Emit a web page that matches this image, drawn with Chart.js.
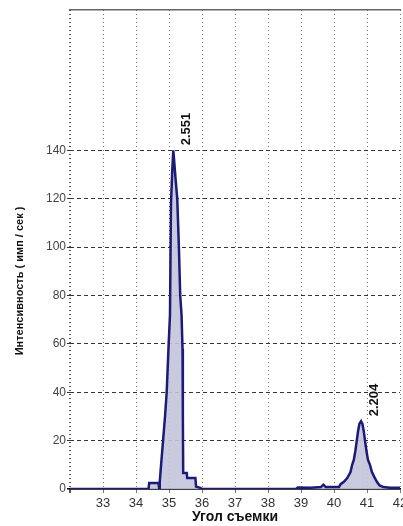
<!DOCTYPE html>
<html>
<head>
<meta charset="utf-8">
<script src="https://cdn.jsdelivr.net/npm/chart.js@4"></script>
<style>
  html, body { margin: 0; padding: 0; background: #fff; overflow: hidden; }
  #wrap { position: relative; width: 403px; height: 526px; }
</style>
</head>
<body>
<div id="wrap"><canvas id="chart"></canvas></div>
<script>
// diffraction scan: angle (2θ) vs intensity
const angles = [
    32.0, 34.38, 34.4, 34.68, 34.7, 34.72, 34.76, 34.82, 34.88, 34.93, 34.99, 35.03,
    35.06, 35.1, 35.13, 35.16, 35.2, 35.25, 35.3, 35.34, 35.38, 35.41, 35.42,
    35.43, 35.54, 35.55, 35.8, 35.82, 35.95, 36.0,
    38.85, 38.9, 39.3, 39.6, 39.68, 39.75, 40.0, 40.15, 40.2, 40.3, 40.4, 40.5,
    40.55, 40.6, 40.65, 40.69, 40.73, 40.77, 40.82, 40.86, 40.9, 40.94, 40.98, 41.03,
    41.09, 41.15, 41.22, 41.3, 41.38, 41.5, 41.7, 42.0,
];
const intensity = [
    0, 0, 2.5, 2.5, 0.5, 3, 10, 20, 30, 40, 60, 72,
    118, 132, 140, 135, 128, 120, 100, 80, 72, 58, 30,
    6.6, 6.6, 4.5, 4.5, 1, 0.5, 0,
    0, 0.6, 0.5, 0.8, 1.8, 0.8, 0.8, 0.8, 2, 3, 4.5, 7,
    10, 12, 16, 20, 24, 27, 28, 27, 24, 20, 16, 12,
    10, 7, 5, 3, 1.5, 0.8, 0.5, 0.5,
];

const peakAngles = [35.13, 40.82];
const peakValues = [140, 28];
const peakLabels = ['2.551', '2.204'];

const xTitle = 'Угол съемки';
const yTitle = 'Интенсивность ( имп / сек )';

const fontFamily = '"Liberation Sans", Arial, sans-serif';

// peak d-spacing labels + y title (drawn a bit below the plot centre, like the original)
const annotatePlugin = {
    id: 'annotate',
    afterDatasetsDraw(chart) {
        const { ctx, scales: { x, y } } = chart;
        ctx.save();
        ctx.font = 'bold 13px "Liberation Sans Narrow", "Liberation Sans", Arial, sans-serif';
        ctx.fillStyle = '#111';
        ctx.textAlign = 'left';
        ctx.textBaseline = 'middle';
        peakLabels.forEach((text, i) => {
            const px = x.getPixelForValue(peakAngles[i]) + 13;
            const py = y.getPixelForValue(peakValues[i]) - 5;
            ctx.save();
            ctx.translate(px, py);
            ctx.rotate(-Math.PI / 2);
            ctx.fillText(text, 0, 0);
            ctx.restore();
        });

        ctx.font = 'bold 11px ' + fontFamily;
        ctx.textAlign = 'center';
        ctx.save();
        ctx.translate(20, y.getPixelForValue(86));
        ctx.rotate(-Math.PI / 2);
        ctx.fillText(yTitle, 0, 0);
        ctx.restore();
        ctx.restore();
    },
};

new Chart(document.getElementById('chart'), {
    type: 'line',
    data: {
        datasets: [{
            data: angles.map((a, i) => ({ x: a, y: intensity[i] })),
            borderColor: '#1b1b78',
            backgroundColor: 'rgba(196, 196, 218, 0.9)',
            borderWidth: 2.5,
            pointRadius: 0,
            fill: 'origin',
            tension: 0,
        }],
    },
    options: {
        responsive: true,
        maintainAspectRatio: false,
        animation: false,
        layout: { padding: { top: 10, right: 3, left: 0, bottom: 0 } },
        plugins: {
            legend: { display: false },
            tooltip: { enabled: false },
        },
        scales: {
            x: {
                type: 'linear',
                min: 32,
                max: 42,
                ticks: {
                    stepSize: 1,
                    padding: 3,
                    color: '#333',
                    font: { family: fontFamily, size: 13 },
                    callback: (v) => (v === 32 ? '' : String(v)),
                },
                grid: {
                    color: (c) => (c.index === 0 ? '#555' : '#777'),
                    lineWidth: (c) => (c.index === 0 ? 2 : 1),
                    tickLength: 4,
                },
                border: { display: true, color: '#000', width: 1.5, dash: [1, 3] },
                title: {
                    display: true,
                    text: xTitle,
                    color: '#111',
                    font: { family: fontFamily, size: 14, weight: 'bold', lineHeight: 1 },
                    padding: { top: 0, bottom: 2 },
                },
                afterFit(scale) {
                    scale.height = 37;
                    scale.paddingRight = 0;
                    scale.paddingLeft = 0;
                },
            },
            x2: {
                type: 'linear',
                position: 'top',
                min: 32,
                max: 42,
                ticks: { display: false },
                grid: { display: false, drawTicks: false },
                border: { display: true, color: '#666', width: 1.5 },
                afterFit(scale) {
                    scale.height = 0;
                },
            },
            y: {
                min: 0,
                max: 198,
                ticks: {
                    stepSize: 20,
                    padding: 1,
                    color: '#444',
                    font: { family: fontFamily, size: 12 },
                    callback: (v) => (v <= 140 ? String(v) : ''),
                },
                grid: {
                    color: (c) => {
                        const v = c.tick ? c.tick.value : 0;
                        if (v > 140) return 'rgba(0,0,0,0)';
                        return v === 0 ? '#000' : '#333';
                    },
                    lineWidth: (c) => (c.tick && c.tick.value === 0 ? 1.5 : 1),
                    tickLength: 3,
                },
                border: {
                    display: false,
                    dash: (c) => (c.tick && c.tick.value === 0 ? [] : [4, 3]),
                },
                afterFit(scale) {
                    scale.width = 70;
                },
            },
        },
    },
    plugins: [annotatePlugin],
});
</script>
</body>
</html>
